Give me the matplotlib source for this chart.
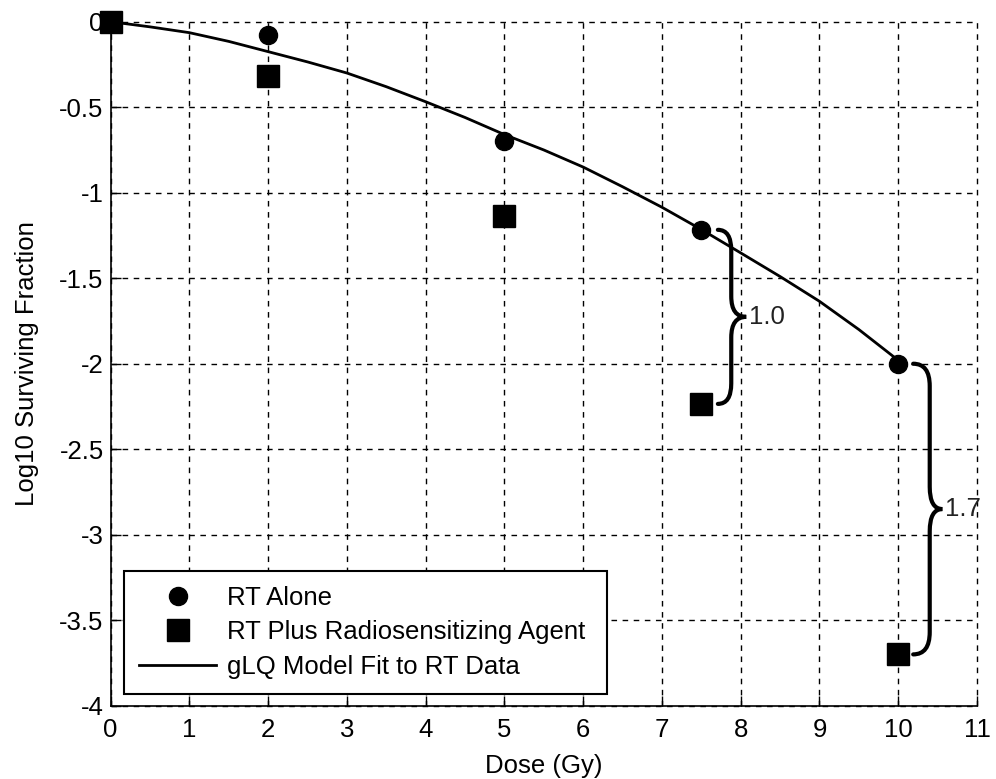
import matplotlib
matplotlib.use("Agg")
import matplotlib.pyplot as plt
from matplotlib.path import Path
from matplotlib.patches import PathPatch

plt.rcParams['font.family'] = ['Liberation Sans', 'DejaVu Sans']

dose = [0, 2, 5, 7.5, 10]
rt_alone = [0, -0.078, -0.70, -1.217, -2.00]
rt_plus = [0, -0.32, -1.135, -2.235, -3.70]

fit_dose = [0, 0.5, 1, 1.5, 2, 2.5, 3, 3.5, 4, 4.5, 5, 5.5, 6, 6.5, 7, 7.5, 8, 8.5, 9, 9.5, 10]
fit_val = [0, -0.03, -0.064, -0.115, -0.175, -0.235, -0.30, -0.38, -0.468, -0.56,
           -0.66, -0.75, -0.85, -0.965, -1.085, -1.215, -1.352, -1.49, -1.635, -1.80, -1.98]

brace_labels = ["1.0", "1.7"]
xticks = list(range(0, 12))
yticks = [0, -0.5, -1, -1.5, -2, -2.5, -3, -3.5, -4]
ytick_labels = ["0", "-0.5", "-1", "-1.5", "-2", "-2.5", "-3", "-3.5", "-4"]

fig = plt.figure(figsize=(9.96, 7.79), dpi=100)
ax = fig.add_axes([0.1111, 0.0941, 0.8698, 0.878])

fs = 18.5
ax.plot(fit_dose, fit_val, color='black', lw=2, label='gLQ Model Fit to RT Data', zorder=3)
ax.plot(dose, rt_alone, 'o', color='black', ms=13, label='RT Alone', zorder=4, clip_on=False)
ax.plot(dose, rt_plus, 's', color='black', ms=15.5, label='RT Plus Radiosensitizing Agent',
        zorder=4, clip_on=False)

def brace(x0, xs, xt, y1, y2, r, label):
    ym = (y1 + y2) / 2
    verts = [(x0, y1), (xs, y1), (xs, y1 - r),
             (xs, ym + r), (xs, ym), (xt, ym),
             (xs, ym), (xs, ym - r),
             (xs, y2 + r), (xs, y2), (x0, y2)]
    codes = [Path.MOVETO, Path.CURVE3, Path.CURVE3,
             Path.LINETO, Path.CURVE3, Path.CURVE3,
             Path.CURVE3, Path.CURVE3,
             Path.LINETO, Path.CURVE3, Path.CURVE3]
    ax.add_patch(PathPatch(Path(verts, codes), fill=False, lw=3, ec='black',
                           capstyle='round', zorder=5))
    ax.text(xt + 0.04, ym, label, fontsize=fs, va='center', ha='left', color='#222222')

brace(7.71, 7.88, 8.07, rt_alone[3], rt_plus[3], 0.12, brace_labels[0])
brace(10.19, 10.40, 10.56, rt_alone[4], rt_plus[4], 0.13, brace_labels[1])

ax.set_xlim(0, 11)
ax.set_ylim(-4, 0)
ax.set_xticks(xticks)
ax.set_xticklabels([str(t) for t in xticks])
ax.set_yticks(yticks)
ax.set_yticklabels(ytick_labels)
ax.tick_params(direction='in', length=7, width=1, top=False, right=False, labelsize=fs)
ax.tick_params(axis='x', pad=8.5)
ax.tick_params(axis='y', pad=5)
ax.grid(True, color='black', linestyle=(0, (4, 4)), lw=1)
for gl in ax.get_xgridlines() + ax.get_ygridlines():
    gl.set_clip_on(False)
ax.spines['top'].set_visible(False)
ax.spines['right'].set_visible(False)
for s in ['left', 'bottom']:
    ax.spines[s].set_linewidth(1.2)
ax.set_xlabel('Dose (Gy)', fontsize=fs, labelpad=9)
ax.set_ylabel('Log10 Surviving Fraction', fontsize=fs, labelpad=15)

h, l = ax.get_legend_handles_labels()
order = [1, 2, 0]
leg = ax.legend([h[i] for i in order], [l[i] for i in order], loc='lower left',
                bbox_to_anchor=(0.0154, 0.017, 0.558, 0.175), mode='expand',
                borderaxespad=0, fontsize=fs,
                fancybox=False, edgecolor='black', framealpha=1, handlelength=3,
                handletextpad=0.4, labelspacing=0.4, borderpad=0.6)
leg.get_frame().set_linewidth(1.5)

fig.savefig('out.png', dpi=100)
